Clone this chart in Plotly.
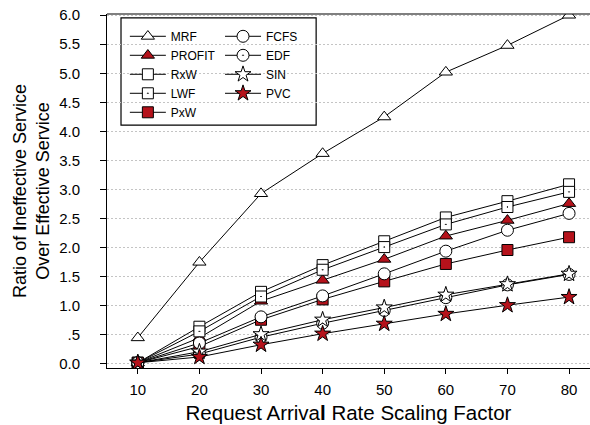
import plotly.graph_objects as go

x_vals = [10, 20, 30, 40, 50, 60, 70, 80]

mrf = [0.45, 1.75, 2.93, 3.62, 4.25, 5.02, 5.48, 6.00]
profit = [0.02, 0.45, 1.08, 1.44, 1.80, 2.20, 2.47, 2.76]
rxw = [0.02, 0.64, 1.24, 1.70, 2.11, 2.52, 2.80, 3.09]
lwf = [0.02, 0.56, 1.16, 1.62, 2.01, 2.40, 2.70, 2.96]
pxw = [0.02, 0.30, 0.76, 1.11, 1.42, 1.72, 1.96, 2.18]
fcfs = [0.02, 0.36, 0.81, 1.17, 1.55, 1.94, 2.30, 2.59]
edf = [0.02, 0.17, 0.46, 0.70, 0.92, 1.14, 1.36, 1.54]
sin = [0.02, 0.21, 0.51, 0.76, 0.97, 1.19, 1.37, 1.55]
pvc = [0.02, 0.12, 0.33, 0.52, 0.69, 0.86, 1.01, 1.15]

y_tickvals = [0, 0.5, 1.0, 1.5, 2.0, 2.5, 3.0, 3.5, 4.0, 4.5, 5.0, 5.5, 6.0]
y_ticktext = ["0.0", ".5", "1.0", "1.5", "2.0", "2.5", "3.0", "3.5", "4.0", "4.5", "5.0", "5.5", "6.0"]
x_tickvals = [10, 20, 30, 40, 50, 60, 70, 80]

RED = "#b5121b"
WHITE = "white"
FONT = "Arial, Liberation Sans, sans-serif"

series = [
    ("MRF", mrf, "triangle-up", WHITE, 11.5, "legend"),
    ("PROFIT", profit, "triangle-up", RED, 11.5, "legend"),
    ("RxW", rxw, "square", WHITE, 11, "legend"),
    ("LWF", lwf, "square-dot", WHITE, 11, "legend"),
    ("PxW", pxw, "square", RED, 11, "legend"),
    ("FCFS", fcfs, "circle", WHITE, 12, "legend2"),
    ("EDF", edf, "circle-dot", WHITE, 12, "legend2"),
    ("SIN", sin, "star", WHITE, 12, "legend2"),
    ("PVC", pvc, "star", RED, 12, "legend2"),
]

fig = go.Figure()
for name, ys, sym, fill, size, lg in series:
    fig.add_trace(go.Scatter(
        x=x_vals, y=ys, name=name, mode="lines+markers",
        line=dict(color="black", width=1),
        marker=dict(symbol=sym, size=size, color=fill,
                    line=dict(color="black", width=1)),
        legend=lg,
    ))

legend_common = dict(
    bgcolor="rgba(0,0,0,0)", borderwidth=0,
    font=dict(family=FONT, size=12, color="black"),
    xanchor="left", yanchor="top", tracegroupgap=0, itemwidth=36,
)

fig.update_layout(
    width=590, height=425,
    margin=dict(l=107, r=0, t=14, b=57),
    paper_bgcolor="white", plot_bgcolor="white",
    font=dict(family=FONT, color="black"),
    showlegend=True,
    legend=dict(x=0.037, y=0.978, **legend_common),
    legend2=dict(x=0.234, y=0.978, **legend_common),
    xaxis=dict(
        range=[5, 83.4], tickvals=x_tickvals,
        showgrid=False, zeroline=False,
        showline=True, linecolor="black", linewidth=1,
        ticks="outside", ticklen=5, tickcolor="black",
        ticklabelstandoff=3,
        tickfont=dict(family=FONT, size=15, color="black"),
        title=dict(text="Request Arriva<b>l</b> Rate Scaling Factor",
                   font=dict(family=FONT, size=20.5, color="black"), standoff=8),
    ),
    yaxis=dict(
        range=[-0.07, 6.02], tickvals=y_tickvals, ticktext=y_ticktext,
        showgrid=True, gridcolor="#c4c4c4", griddash="2px,2px", gridwidth=1,
        zeroline=False,
        showline=True, linecolor="black", linewidth=1,
        ticks="outside", ticklen=6, tickcolor="black",
        ticklabelstandoff=17,
        tickfont=dict(family=FONT, size=15, color="black"),
        title=dict(text="Ratio of <b>I</b>neffective Service<br>Over Effective Service",
                   font=dict(family=FONT, size=18, color="black"), standoff=4),
    ),
    shapes=[
        dict(type="line", xref="paper", yref="paper", x0=0, x1=1, y0=1, y1=1,
             line=dict(color="black", width=1.2)),
        dict(type="rect", xref="paper", yref="paper",
             x0=0.029, x1=0.433, y0=0.686, y1=0.989,
             line=dict(color="black", width=1.2), fillcolor="white", layer="below"),
    ],
)

fig.write_html("out.html")
